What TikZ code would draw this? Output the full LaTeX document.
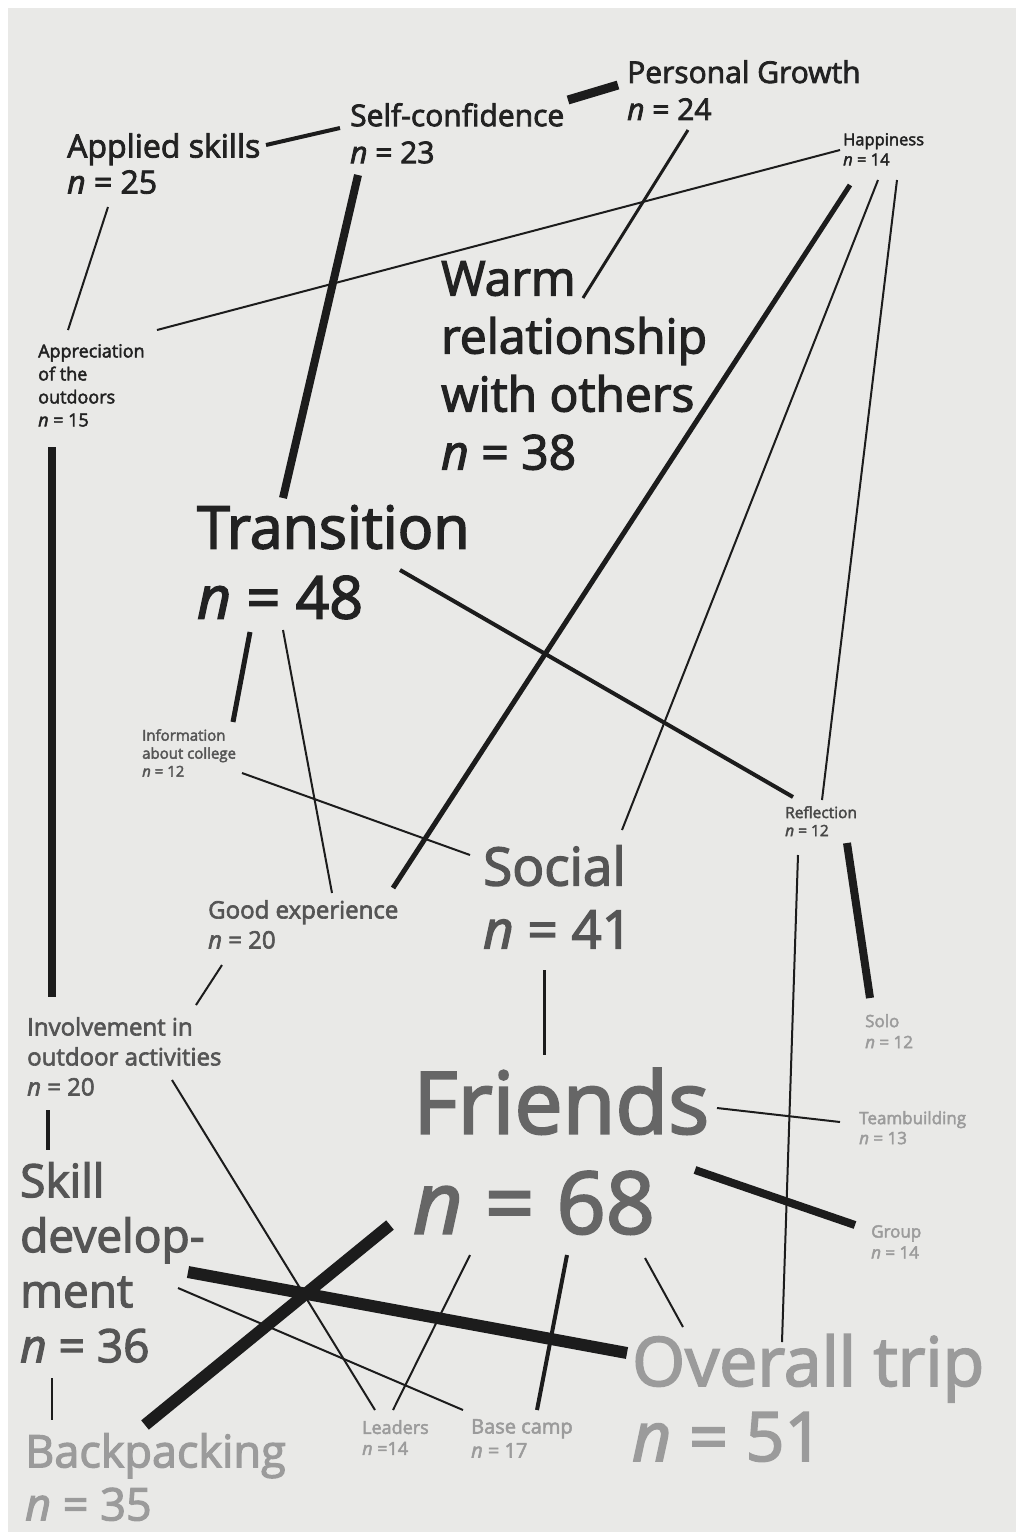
\documentclass[tikz,border=0pt]{standalone}
\usepackage{fontspec}
\setmainfont{Open Sans}[UprightFeatures={FakeBold=2.6},ItalicFeatures={FakeBold=2.6}]
\usepackage{xcolor}
\usepackage{tikz}
\definecolor{paper}{RGB}{233,233,231}
\definecolor{ink}{RGB}{28,28,28}
\definecolor{tdark}{RGB}{34,34,34}
\definecolor{tmid}{RGB}{85,85,85}
\definecolor{tgray}{RGB}{102,102,102}
\definecolor{tlight}{RGB}{155,155,155}
\newcommand{\fs}[2]{\fontsize{#1}{#2}\selectfont}
\tikzset{
  theme/.style={anchor=north west,inner sep=0pt,align=left},
  dk/.style={theme,text=tdark},
  md/.style={theme,text=tmid},
  lt/.style={theme,text=tlight},
  link/.style={draw=ink,line cap=butt},
}

\begin{document}
\begin{tikzpicture}[x=1pt,y=-1pt]
  \useasboundingbox (0,0) rectangle (1016,1535);
  \fill[paper] (8,8) rectangle (1016,1532);
  % upper themes
  \node[dk,font={\fs{30}{37}}] (pg) at (627,60) {Personal Growth\\\textit{n} = 24};
  \node[dk,font={\fs{30}{37}}] (sc) at (350,103) {Self-confidence\\\textit{n} = 23};
  \node[dk,font={\fs{32}{36}}] (as) at (67,133) {Applied skills\\\textit{n} = 25};
  \node[dk,font={\fs{16.5}{20}}] (hp) at (843,133) {Happiness\\\textit{n} = 14};
  \node[dk,font={\fs{48}{58}}] (wr) at (441,261) {Warm\\relationship\\with others\\\textit{n} = 38};
  \node[dk,font={\fs{18}{23}}] (ap) at (38,344) {Appreciation\\of the\\outdoors\\\textit{n} = 15};
  \node[dk,font={\fs{59}{70}}] (tr) at (197,505) {Transition\\\textit{n} = 48};
  % middle themes
  \node[md,font={\fs{15}{18}}] (ic) at (142,729) {Information\\about college\\\textit{n} = 12};
  \node[md,font={\fs{24}{30}}] (ge) at (208,900) {Good experience\\\textit{n} = 20};
  \node[md,font={\fs{53}{63}}] (so) at (483,845) {Social\\\textit{n} = 41};
  \node[theme,text=black!72,font={\fs{15.5}{18}}] (rf) at (785,806) {Reflection\\\textit{n} = 12};
  \node[md,font={\fs{24}{30}}] (io) at (27,1017) {Involvement in\\outdoor activities\\\textit{n} = 20};
  \node[md,font={\fs{46}{55}}] (sd) at (20,1162) {Skill\\develop-\\ment\\\textit{n} = 36};
  \node[theme,text=tgray,font={\fs{86}{100}}] (fr) at (413,1068) {Friends\\\textit{n} = 68};
  % lower themes
  \node[lt,font={\fs{17}{21}}] (sl) at (865,1014) {Solo\\\textit{n} = 12};
  \node[lt,font={\fs{17}{20}}] (tb) at (859,1111) {Teambuilding\\\textit{n} = 13};
  \node[lt,font={\fs{17}{21}}] (gr) at (871,1225) {Group\\\textit{n} = 14};
  \node[lt,font={\fs{68}{75}}] (ot) at (632,1334) {Overall trip\\\textit{n} = 51};
  \node[lt,font={\fs{45}{53}}] (bp) at (25,1433) {Backpacking\\\textit{n} = 35};
  \node[lt,font={\fs{18}{21}}] (ld) at (362,1420) {Leaders\\\textit{n} =14};
  \node[lt,font={\fs{20}{24}}] (bc) at (471,1419) {Base camp\\\textit{n} = 17};
  % links: from/dx/dy/to/dx/dy/width
  \foreach \a/\ax/\ay/\b/\bx/\by/\w in {
      as/199/12/sc/-10/25/4, sc/218/-3/pg/-9/25/9, sc/8/72/tr/86/-7/8,
      pg/61/70/wr/142/37/3, as/41/74/ap/30/-14/2, hp/-3/17/ap/119/-14/2,
      hp/7/52/ge/185/-12/5, hp/35/47/so/139/-15/2, hp/54/47/rf/37/-6/2,
      ap/14/103/io/25/-20/8, tr/203/65/rf/8/-9/4, tr/53/127/ic/91/-7/5,
      tr/86/125/ge/124/-7/2, ic/100/44/so/-13/10/2, ge/14/65/io/169/-12/2,
      so/61/125/fr/131/-13/3, rf/62/37/sl/5/-16/8, rf/13/49/ot/150/8/2,
      fr/304/40/tb/-19/11/2, fr/282/102/gr/-16/0/8, io/21/93/sd/28/-12/4,
      io/145/63/ld/13/-10/2, sd/168/110/ot/-5/19/12, sd/158/126/bc/-8/-9/2,
      fr/-23/157/bp/120/-8/12, fr/57/187/ld/31/-10/2, fr/154/187/bc/66/-9/4,
      fr/232/190/ot/51/-7/2, sd/32/216/bp/27/-13/2}
    \draw[link,line width=\w pt] ([shift={(\ax,\ay)}]\a.north west) -- ([shift={(\bx,\by)}]\b.north west);
\end{tikzpicture}
\end{document}
